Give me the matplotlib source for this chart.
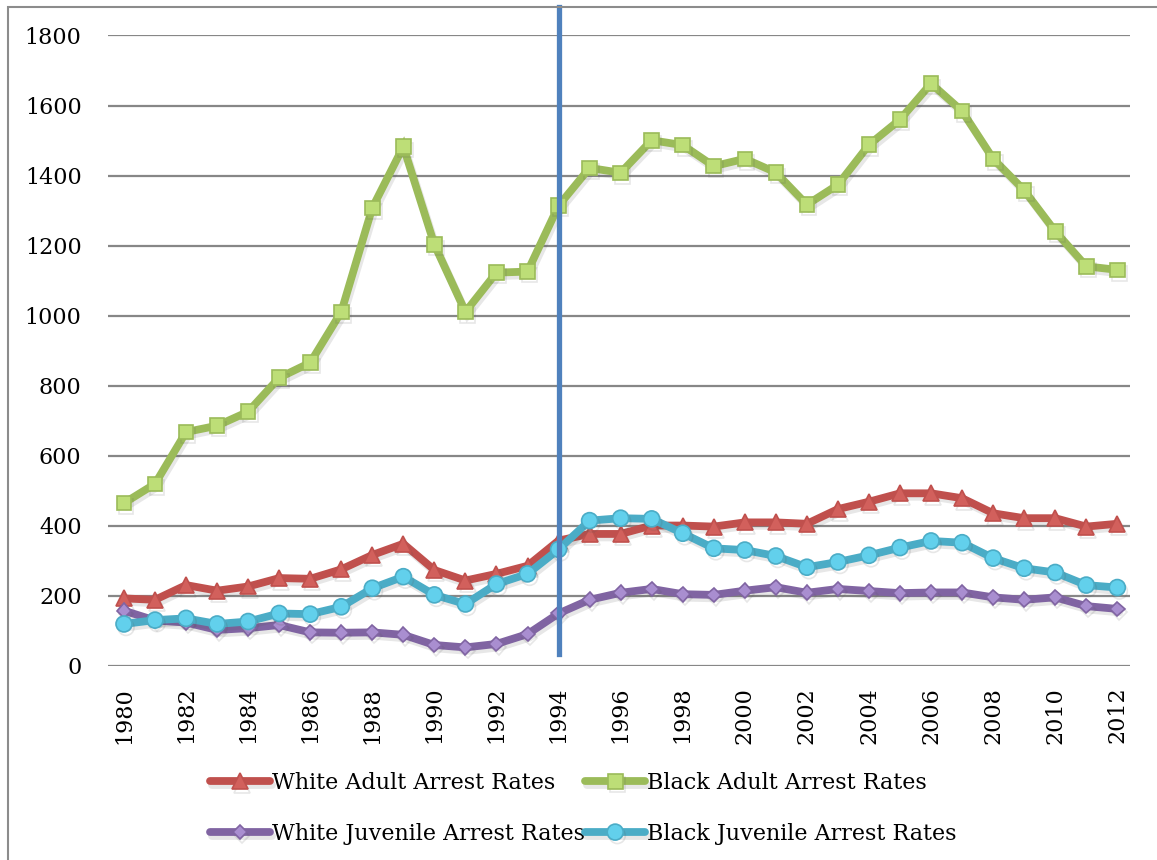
import matplotlib
matplotlib.use('Agg')

import matplotlib.pyplot as plt
import matplotlib.patheffects as pe
from matplotlib.patches import Rectangle

# Arrest rates per 100,000, 1980-2012
years = list(range(1980, 2013))

white_adult = [193, 189, 231, 215, 227, 251, 249, 276, 317, 349, 274, 244, 263, 286, 358,
               377, 377, 401, 401, 398, 410, 410, 406, 448, 469, 493, 493, 479, 436, 422,
               422, 398, 406]
black_adult = [465, 520, 668, 686, 726, 823, 866, 1011, 1308, 1483, 1203, 1011, 1123, 1126, 1314,
               1422, 1408, 1501, 1487, 1427, 1448, 1409, 1317, 1374, 1488, 1560, 1663, 1584, 1448, 1358,
               1241, 1141, 1131]
white_juvenile = [158, 130, 124, 103, 108, 117, 96, 95, 96, 89, 60, 53, 63, 91, 150,
                  189, 209, 220, 205, 203, 215, 225, 209, 220, 214, 208, 210, 210, 196, 189,
                  196, 171, 163]
black_juvenile = [120, 131, 136, 120, 127, 150, 148, 169, 222, 255, 203, 177, 234, 263, 333,
                  415, 422, 420, 379, 336, 331, 314, 282, 297, 316, 338, 357, 352, 308, 279,
                  267, 231, 224]

labels = ['White Adult Arrest Rates', 'Black Adult Arrest Rates',
          'White Juvenile Arrest Rates', 'Black Juvenile Arrest Rates']
marker_year = 1994

plt.rcParams['font.family'] = ['DejaVu Serif']
plt.rcParams['font.size'] = 16

W, H = 1157, 860
fig = plt.figure(figsize=(W / 100, H / 100), dpi=100)
ax = fig.add_axes([108 / W, 1 - 666 / H, (1130 - 108) / W, (666 - 35.5) / H])

shadow = [pe.SimpleLineShadow(offset=(1.5, -2.5), alpha=0.14, shadow_color='#555555'), pe.Normal()]

series = [
    (white_adult, '#C0504D', '^', '#D2605C', 11.5),
    (black_adult, '#9BBB59', 's', '#BDDE77', 10.5),
    (white_juvenile, '#8064A2', 'D', '#A98ED0', 7.5),
    (black_juvenile, '#4BACC6', 'o', '#62D0EC', 11.5),
]

lines = []
for (vals, col, mk, fill, ms), lab in zip(series, labels):
    ln, = ax.plot(years, vals, color=col, lw=5.6, marker=mk, markersize=ms,
                  markerfacecolor=fill, markeredgecolor=col, markeredgewidth=1.2,
                  solid_capstyle='round', solid_joinstyle='miter', label=lab,
                  path_effects=shadow, zorder=3)
    lines.append(ln)

# 1994 reference line running up through the top of the plot
ax.axvline(marker_year, ymin=(666 - 654) / 630.5, ymax=(666 - 7) / 630.5,
           color='#4F81BD', lw=3.8, clip_on=False, zorder=5)

ax.set_xlim(1980 - 16 / 31.06, 2012 + 12.7 / 31.06)
ax.set_ylim(0, 1800)
ax.set_yticks(range(0, 1801, 200))
ax.set_xticks(years[::2])
ax.set_xticklabels([str(y) for y in years[::2]], rotation=90)
ax.tick_params(axis='y', length=0, pad=19)
ax.tick_params(axis='x', length=0, pad=15)
ax.grid(axis='y', color='#878787', lw=1.6)
ax.set_axisbelow(True)
for s in ax.spines.values():
    s.set_visible(False)

# Outer chart border (left and top edges only fall inside the image)
fig.add_artist(Rectangle((8 / W, -0.2), 1.2, 1.2 - 7 / H, transform=fig.transFigure,
                         fill=False, edgecolor='#8c8c8c', lw=1.5))

handles = [lines[0], lines[2], lines[1], lines[3]]
leg = ax.legend(handles, [h.get_label() for h in handles], ncol=2, loc='upper left',
                bbox_to_anchor=(210 / W, 1 - 772 / H), bbox_transform=fig.transFigure,
                frameon=False, handlelength=2.7, handletextpad=0.1, columnspacing=0.0,
                labelspacing=1.3, borderpad=0, borderaxespad=0, fontsize=16)

fig.savefig('out.png', dpi=100)
